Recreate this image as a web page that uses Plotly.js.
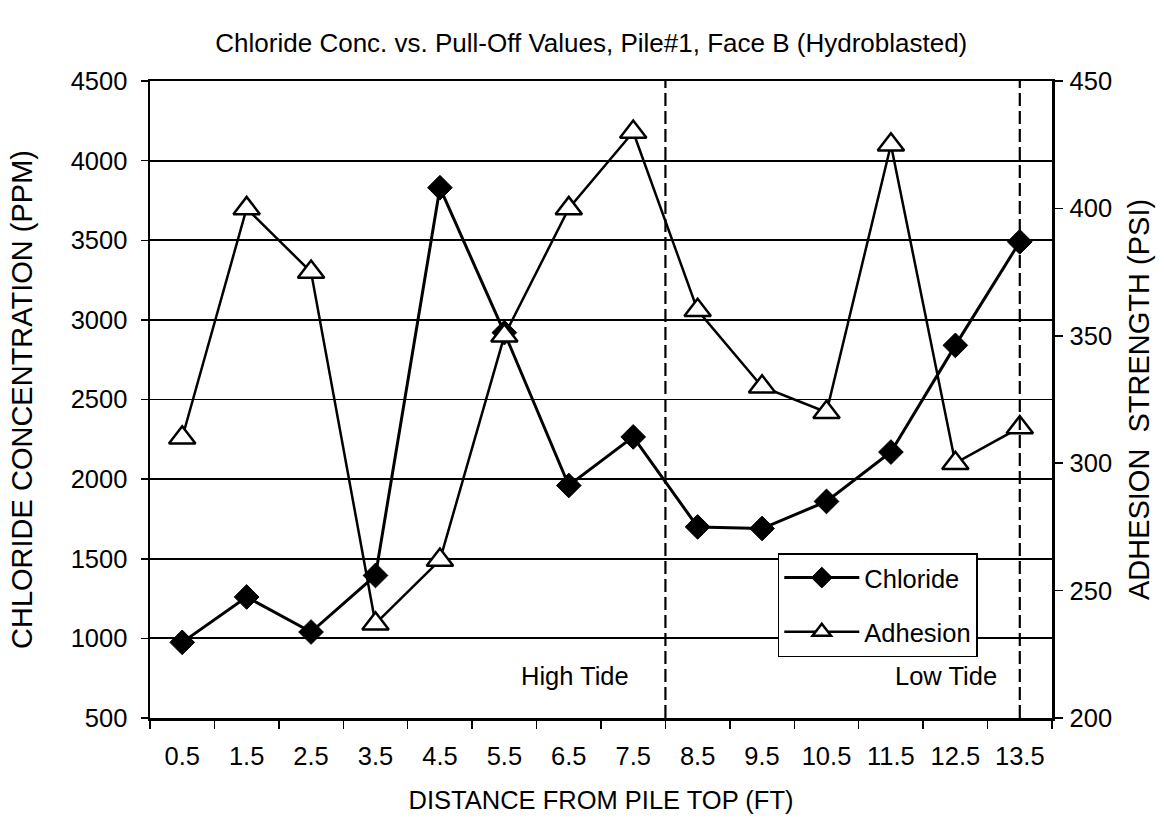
<!DOCTYPE html>
<html>
<head>
<meta charset="utf-8">
<script src="https://cdn.plot.ly/plotly-3.0.1.min.js"></script>
<style>
  html, body { margin: 0; padding: 0; background: #ffffff; }
  #chart { width: 1164px; height: 825px; }
</style>
</head>
<body>
<div id="chart"></div>
<script>
// ---- data ----
var distances = ['0.5','1.5','2.5','3.5','4.5','5.5','6.5','7.5','8.5','9.5','10.5','11.5','12.5','13.5'];
var chloride = [975, 1260, 1040, 1395, 3830, 2920, 1960, 2265, 1700, 1690, 1860, 2170, 2840, 3490];
var adhesion = [310, 400, 375, 237, 262, 350, 400, 430, 360, 330, 320, 425, 300, 314];
var tideLines = [7.5, 13];          // category-index positions of the dashed separators
var tideLabels = ['High Tide', 'Low Tide'];

var FONT = '"Liberation Sans", Arial, Helvetica, sans-serif';
var TICK = 25.5;

var traces = [
  {
    x: distances, y: chloride, name: 'Chloride', type: 'scatter', mode: 'lines+markers',
    legendgroup: 'a',
    line: { color: '#000', width: 3 },
    marker: { symbol: 'diamond', size: 19, color: '#000', line: { color: '#000', width: 1 } },
    yaxis: 'y'
  },
  {
    x: distances, y: adhesion, name: 'Adhesion', type: 'scatter', mode: 'lines+markers',
    legendgroup: 'b',
    line: { color: '#000', width: 2.5 },
    marker: { symbol: 'triangle-up', size: 23, color: '#fff', line: { color: '#000', width: 2.5 } },
    yaxis: 'y2'
  }
];

var shapes = tideLines.map(function (v) {
  return { type: 'line', xref: 'x', yref: 'paper', x0: v, x1: v, y0: 0, y1: 1,
           line: { color: '#000', width: 2.2, dash: '13px,5px' }, layer: 'above' };
});

var annotations = [
  { text: tideLabels[0], xref: 'paper', yref: 'paper', x: 0.471, y: 0.066, yanchor: 'middle', xanchor: 'center',
    showarrow: false, font: { size: TICK, color: '#000', family: FONT } },
  { text: tideLabels[1], xref: 'paper', yref: 'paper', x: 0.8825, y: 0.066, yanchor: 'middle', xanchor: 'center',
    showarrow: false, font: { size: TICK, color: '#000', family: FONT } }
];

var layout = {
  width: 1164, height: 825,
  margin: { l: 150, r: 112, t: 81, b: 107 },
  paper_bgcolor: '#fff', plot_bgcolor: '#fff',
  font: { family: FONT, size: TICK, color: '#000' },
  title: { text: 'Chloride Conc. vs. Pull-Off Values, Pile#1, Face B (Hydroblasted)',
           font: { size: 26, family: FONT, color: '#000' }, x: 0.508, xanchor: 'center', y: 0.948, yanchor: 'middle' },
  showlegend: true,
  legend: { x: 0.696, y: 0.259, xanchor: 'left', yanchor: 'top', bgcolor: '#fff',
            bordercolor: '#000', borderwidth: 1.5, font: { size: TICK, family: FONT, color: '#000' },
            tracegroupgap: 18, itemwidth: 75 },
  xaxis: {
    type: 'category', tickson: 'boundaries', ticks: 'outside', ticklen: 8, tickwidth: 1.5, tickcolor: '#000',
    showline: true, linecolor: '#000', linewidth: 2.5, mirror: true, showgrid: false, zeroline: false,
    tickfont: { size: TICK, family: FONT, color: '#000' }, ticklabelstandoff: 14,
    title: { text: 'DISTANCE FROM PILE TOP (FT)', font: { size: 25.5, family: FONT, color: '#000' }, standoff: 22 },
    range: [-0.5, 13.5]
  },
  yaxis: {
    range: [500, 4500], dtick: 500, tick0: 500, ticks: 'outside', ticklen: 7, tickwidth: 1.5, tickcolor: '#000',
    showline: true, linecolor: '#000', linewidth: 2.5, showgrid: true, gridcolor: '#000', gridwidth: 1.8,
    zeroline: false, tickfont: { size: TICK, family: FONT, color: '#000' }, ticklabelstandoff: 8,
    title: { text: 'CHLORIDE CONCENTRATION (PPM)', font: { size: 29, family: FONT, color: '#000' }, standoff: 30 }
  },
  yaxis2: {
    overlaying: 'y', side: 'right', range: [200, 450], dtick: 50, tick0: 200,
    ticks: 'outside', ticklen: 8, tickwidth: 1.5, tickcolor: '#000',
    showline: true, linecolor: '#000', linewidth: 2.5, showgrid: false, zeroline: false,
    tickfont: { size: TICK, family: FONT, color: '#000' }, ticklabelstandoff: 2,
    title: { text: 'ADHESION\u00a0\u00a0STRENGTH (PSI)', font: { size: 29, family: FONT, color: '#000' }, standoff: 18 }
  },
  shapes: shapes,
  annotations: annotations
};

Plotly.newPlot('chart', traces, layout, { staticPlot: true, displayModeBar: false });
</script>
</body>
</html>
